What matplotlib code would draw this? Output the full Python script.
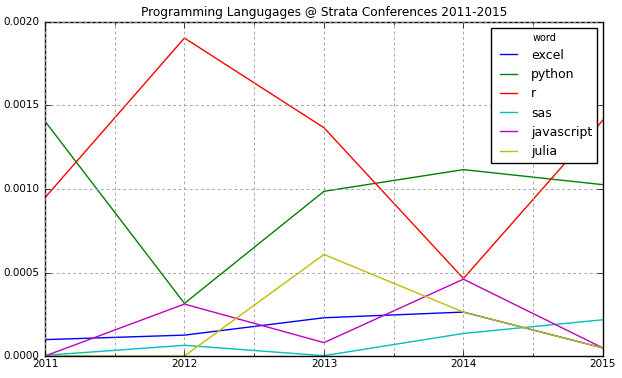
import matplotlib
matplotlib.use('Agg')
import matplotlib.pyplot as plt
from matplotlib.ticker import MultipleLocator, FormatStrFormatter

plt.style.use('classic')

years = [2011, 2012, 2013, 2014, 2015]
words = ['excel', 'python', 'r', 'sas', 'javascript', 'julia']
excel = [0.000098, 0.000125, 0.000229, 0.000263, 0.000048]
python = [0.001406, 0.000315, 0.000986, 0.001116, 0.001026]
r = [0.000948, 0.001904, 0.001367, 0.000464, 0.001412]
sas = [0.000004, 0.000064, 0.000002, 0.000135, 0.000217]
javascript = [0.0, 0.000311, 0.00008, 0.00046, 0.000048]
julia = [0.0, 0.0, 0.000608, 0.000263, 0.000048]
series = [excel, python, r, sas, javascript, julia]
colors = ['b', 'g', 'r', 'c', 'm', 'y']

fig = plt.figure(figsize=(6.22, 3.78), dpi=100)
ax = fig.add_axes([0.0723, 0.0582, 0.897, 0.8836])

for name, vals, c in zip(words, series, colors):
    ax.plot(years, vals, color=c, label=name, linewidth=1.0)

ax.set_xlim(2011, 2015)
ax.set_ylim(0, 0.002)
ax.xaxis.set_major_locator(MultipleLocator(1))
ax.xaxis.set_minor_locator(MultipleLocator(0.5))
ax.xaxis.set_major_formatter(FormatStrFormatter('%d'))
ax.yaxis.set_major_locator(MultipleLocator(0.0005))
ax.yaxis.set_major_formatter(FormatStrFormatter('%.4f'))
ax.grid(True, which='both', color='#999999', linestyle=(0, (2, 2)), linewidth=0.6)
ax.tick_params(labelsize=7.5)
ax.tick_params(axis='x', pad=2)

ax.set_title('Programming Langugages @ Strata Conferences 2011-2015', fontsize=8.7, pad=4)
leg = ax.legend(loc='upper right', title='word', fontsize=9, borderaxespad=0.45)
leg.get_title().set_fontsize(7)

fig.savefig('out.png', dpi=100)
